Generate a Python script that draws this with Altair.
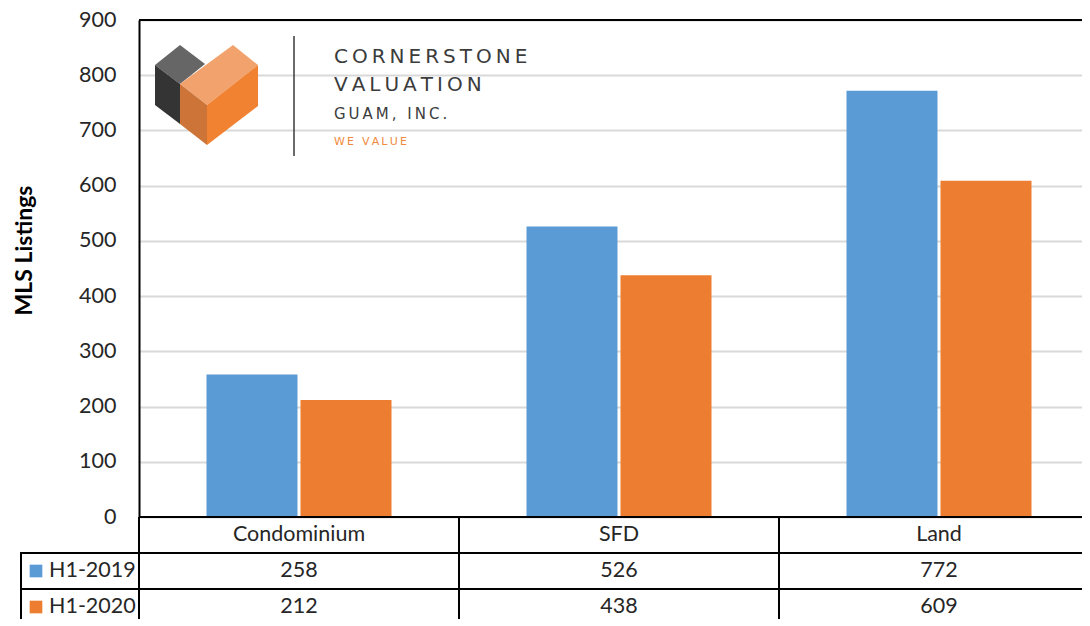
import altair as alt
import pandas as pd
import urllib.parse

# ---------------- data ----------------
categories = ["Condominium", "SFD", "Land"]
series = ["H1-2019", "H1-2020"]
values_2019 = [258, 526, 772]
values_2020 = [212, 438, 609]
y_ticks = [0, 100, 200, 300, 400, 500, 600, 700, 800, 900]
series_colors = ["#5B9BD5", "#ED7D31"]
header_row = "Category"
table_rows = [header_row] + series

records = []
for s, vals in zip(series, [values_2019, values_2020]):
    for c, v in zip(categories, vals):
        records.append({"category": c, "series": s, "row": s, "value": v})
df = pd.DataFrame(records)

W = 960
H = 497
ROW_H = 36
FONT = "Lato"
TXT = "#262626"
FS = 21.5

xscale = alt.Scale(domain=categories, paddingInner=0, paddingOuter=0)
color = alt.Color("series:N", scale=alt.Scale(domain=series, range=series_colors), legend=None)

# ---------------- bar panel ----------------
bars = alt.Chart(df).mark_bar().encode(
    x=alt.X("category:N", scale=xscale, sort=categories, axis=None),
    xOffset=alt.XOffset("series:N", scale=alt.Scale(domain=series, paddingInner=0.032, paddingOuter=0.718)),
    y=alt.Y(
        "value:Q",
        scale=alt.Scale(domain=[0, 900], nice=False),
        axis=alt.Axis(
            values=y_ticks,
            title="MLS Listings",
            grid=True,
            gridColor="#D9D9D9",
            gridWidth=1.8,
            domainColor="black",
            domainWidth=2,
            ticks=False,
            labelFont=FONT,
            labelFontSize=FS,
            labelColor=TXT,
            labelPadding=23,
            titleFont=FONT,
            titleFontSize=23,
            titleFontWeight="bold",
            titleColor="black",
            titleAngle=-90,
            titleX=-115,
            titleY=230,
            titleBaseline="middle",
        ),
    ),
    color=color,
)

top_border = alt.Chart(pd.DataFrame({"v": [900]})).mark_rule(color="black", strokeWidth=2).encode(
    y=alt.Y("v:Q")
)

# logo graphic (decoration)
logo_svg = (
    '<svg xmlns="http://www.w3.org/2000/svg" width="105" height="102" viewBox="0 0 105 102">'
    '<polygon points="1,21 26,1 51,20 26,40" fill="#666666"/>'
    '<polygon points="1,21 26,40 26,80 1,61" fill="#343434"/>'
    '<polygon points="26,40 79,1 104,21 53,61" fill="#F2A26C"/>'
    '<polygon points="26,40 53,61 53,101 26,80" fill="#CD7538"/>'
    '<polygon points="53,61 104,21 104,62 53,101" fill="#F08232"/>'
    '</svg>'
)
logo_url = "data:image/svg+xml;charset=utf-8," + urllib.parse.quote(logo_svg)
logo_img = alt.Chart(pd.DataFrame({"u": [logo_url]})).mark_image(
    width=105, height=102, align="left", baseline="top"
).encode(url="u:N", x=alt.value(15), y=alt.value(24))

divider = alt.Chart(pd.DataFrame({"a": [0]})).mark_rule(color="#3a3a3a", strokeWidth=1.5).encode(
    x=alt.value(155), y=alt.value(16), y2=alt.value(136)
)

TS = "\u2009"
def spaced(s):
    return TS.join(list(s))

def logo_text(t, x, y, size, col):
    return alt.Chart(pd.DataFrame({"t": [t]})).mark_text(
        align="left", baseline="alphabetic", font="DejaVu Sans", fontSize=size, color=col
    ).encode(text="t:N", x=alt.value(x), y=alt.value(y))

logo_t1 = logo_text(spaced("CORNERSTONE"), 195, 43, 20, "#3c3c3c")
logo_t2 = logo_text(spaced("VALUATION"), 195, 71, 20, "#3c3c3c")
logo_t3 = logo_text(spaced("GUAM, INC."), 195, 99, 15, "#3c3c3c")
logo_t4 = logo_text(spaced("WE VALUE"), 195, 125, 11, "#F08A3C")

top = alt.layer(
    bars, top_border, logo_img, divider, logo_t1, logo_t2, logo_t3, logo_t4
).properties(width=W, height=H)

# ---------------- data table panel ----------------
yscale_t = alt.Scale(domain=table_rows, paddingInner=0, paddingOuter=0)
row_df = pd.DataFrame({"row": table_rows})
cat_df = pd.DataFrame({"category": categories})
header_df = pd.DataFrame({"category": categories, "row": [header_row] * len(categories)})
leg_df = pd.DataFrame({"row": series, "series": series})

leg_cells = alt.Chart(leg_df).mark_rect(fill="white", stroke="black", strokeWidth=2).encode(
    x=alt.value(-118), x2=alt.value(0),
    y=alt.Y("row:N", scale=yscale_t, axis=None),
)
hlines = alt.Chart(row_df).mark_rule(color="black", strokeWidth=2).encode(
    y=alt.Y("row:N", scale=yscale_t, bandPosition=0, axis=None)
)
vlines = alt.Chart(cat_df).mark_rule(color="black", strokeWidth=2).encode(
    x=alt.X("category:N", scale=xscale, sort=categories, bandPosition=0, axis=None)
)
header_txt = alt.Chart(header_df).mark_text(font=FONT, fontSize=FS, color=TXT).encode(
    x=alt.X("category:N", scale=xscale, sort=categories, axis=None),
    y=alt.Y("row:N", scale=yscale_t, axis=None),
    text="category:N",
)
value_txt = alt.Chart(df).mark_text(font=FONT, fontSize=FS, color=TXT).encode(
    x=alt.X("category:N", scale=xscale, sort=categories, axis=None),
    y=alt.Y("row:N", scale=yscale_t, axis=None),
    text=alt.Text("value:Q"),
)
swatch = alt.Chart(leg_df).mark_square(size=160, opacity=1, filled=True).encode(
    x=alt.value(-103),
    y=alt.Y("row:N", scale=yscale_t, axis=None),
    color=color,
)
leg_txt = alt.Chart(leg_df).mark_text(font=FONT, fontSize=FS, color=TXT, align="left").encode(
    x=alt.value(-90),
    y=alt.Y("row:N", scale=yscale_t, axis=None),
    text="series:N",
)

table = alt.layer(
    leg_cells, hlines, vlines, header_txt, value_txt, swatch, leg_txt
).properties(width=W, height=ROW_H * len(table_rows))

chart = alt.vconcat(top, table, spacing=0, bounds="flush").configure_view(stroke=None).configure(
    font=FONT
).properties(padding={"left": 4, "top": 0, "right": -19, "bottom": -8})

chart.save("out.html", embed_options={"renderer": "svg", "actions": False})
